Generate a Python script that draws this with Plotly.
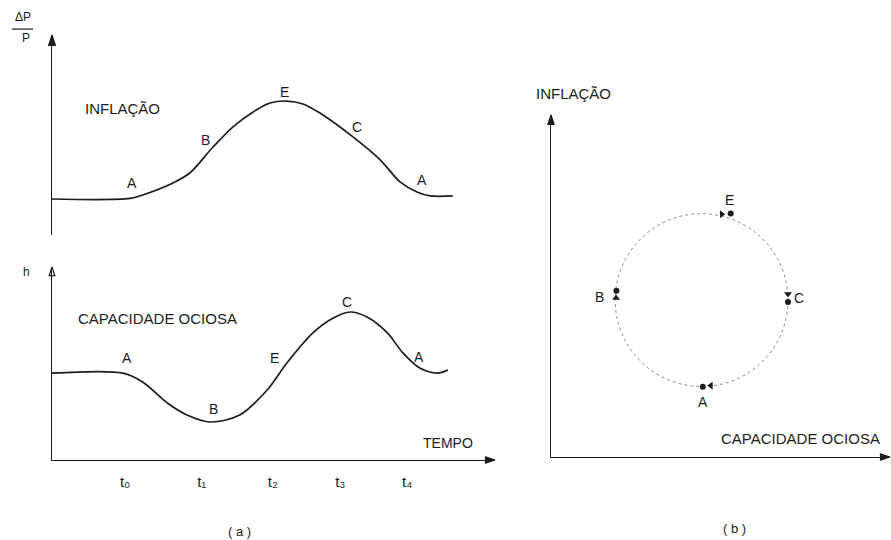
import plotly.graph_objects as go

# ---------------- panel (a): time paths ----------------
# time axis (t0 .. t4 tick positions) shared by both (a) panels
tick_vals = [1.04, 2.13, 3.14, 4.10, 5.05]
tick_text = ["t₀", "t₁", "t₂", "t₃", "t₄"]

# inflation path  ΔP/P
time_inf = [0.0, 1.11, 1.29, 1.72, 1.96, 2.29, 2.57, 2.86, 3.10, 3.34, 3.57, 3.81,
            4.28, 4.67, 4.95, 5.19, 5.38, 5.70]
inflacao = [0.0, 0.03, 0.21, 0.83, 1.34, 2.68, 3.71, 4.49, 4.95, 5.05, 4.90, 4.43,
            3.20, 2.01, 0.88, 0.36, 0.16, 0.16]
inf_lbl_t = [1.14, 2.18, 3.30, 4.34, 5.26]
inf_lbl_v = [0.83, 3.04, 5.52, 3.71, 0.98]
inf_lbl_txt = ["A", "B", "E", "C", "A"]

# idle capacity path  h
time_cap = [0.0, 1.01, 1.29, 1.64, 1.92, 2.25, 2.67, 3.06, 3.34, 3.71, 4.00, 4.24,
            4.48, 4.77, 4.99, 5.23, 5.48, 5.63]
capacidade = [4.48, 4.48, 4.02, 2.94, 2.32, 1.96, 2.32, 3.61, 5.00, 6.55, 7.32, 7.63,
              7.37, 6.55, 5.52, 4.74, 4.48, 4.64]
cap_lbl_t = [1.07, 2.29, 3.16, 4.20, 5.22]
cap_lbl_v = [5.26, 2.63, 5.26, 8.14, 5.31]
cap_lbl_txt = ["A", "B", "E", "C", "A"]

# ---------------- panel (b): phase diagram ----------------
circle_center = (5.02, 5.23)
circle_radius = 2.88
phase_names = ["A", "B", "E", "C"]
dot_x = [5.06, 2.18, 5.99, 7.90]
dot_y = [2.34, 5.54, 8.12, 5.17]
arrow_x = [5.33, 2.17, 5.69, 7.90]
arrow_y = [2.38, 5.30, 8.09, 5.43]
arrow_dir = [270, 0, 90, 180]
phase_lbl_x = [5.07, 1.60, 5.94, 8.28]
phase_lbl_y = [1.83, 5.34, 8.57, 5.29]

W, H = 891, 540
INK = "#1c1c1c"
FONT = "Liberation Sans, DejaVu Sans"


def px_x(p):
    return p / W


def px_y(p):
    return 1 - p / H


# axis geometry: (domain, range)
AX_T = ([px_x(52), px_x(495)], [0, 6.3])
AX_INF = ([px_y(235), px_y(35)], [-1.855, 8.455])
AX_CAP = ([px_y(460), px_y(267)], [0, 9.95])
AX_OC = ([px_x(551), px_x(890)], [0, 11.3])
AX_IN = ([px_y(457), px_y(115)], [0, 11.4])


def to_paper(axis, v):
    (d0, d1), (r0, r1) = axis
    return d0 + (v - r0) / (r1 - r0) * (d1 - d0)


fig = go.Figure()

fig.add_trace(go.Scatter(x=time_inf, y=inflacao, mode="lines", xaxis="x", yaxis="y",
                         line=dict(color=INK, width=1.7, shape="spline", smoothing=0.9),
                         hoverinfo="skip", showlegend=False))
fig.add_trace(go.Scatter(x=time_cap, y=capacidade, mode="lines", xaxis="x", yaxis="y2",
                         line=dict(color=INK, width=1.7, shape="spline", smoothing=0.9),
                         hoverinfo="skip", showlegend=False))

# phase points and direction arrows on the cycle
fig.add_trace(go.Scatter(x=dot_x, y=dot_y, mode="markers", xaxis="x2", yaxis="y3",
                         marker=dict(color=INK, size=6, symbol="circle"),
                         cliponaxis=False, hoverinfo="skip", showlegend=False))
fig.add_trace(go.Scatter(x=arrow_x, y=arrow_y, mode="markers", xaxis="x2", yaxis="y3",
                         marker=dict(color=INK, size=7, symbol="triangle-up", angle=arrow_dir),
                         cliponaxis=False, hoverinfo="skip", showlegend=False))


# arrowheads at the ends of the axis lines
def axis_head(xa, ya, x, y, angle, symbol, size):
    fig.add_trace(go.Scatter(x=[x], y=[y], mode="markers", xaxis=xa, yaxis=ya,
                             marker=dict(color=INK, size=size, symbol=symbol, angle=angle,
                                         line=dict(color=INK, width=1.2)),
                             cliponaxis=False, hoverinfo="skip", showlegend=False))


axis_head("x", "y", AX_T[1][0], AX_INF[1][1], 0, "arrow", 11)
axis_head("x", "y2", AX_T[1][0], AX_CAP[1][1], 0, "arrow-open", 9)
axis_head("x", "y2", AX_T[1][1], AX_CAP[1][0], 90, "arrow", 10)
axis_head("x2", "y3", AX_OC[1][0], AX_IN[1][1], 0, "arrow", 10)
axis_head("x2", "y3", AX_OC[1][1], AX_IN[1][0], 90, "arrow", 10)

cx, cy = circle_center
fig.add_shape(type="circle", xref="x2", yref="y3",
              x0=cx - circle_radius, x1=cx + circle_radius,
              y0=cy - circle_radius, y1=cy + circle_radius,
              line=dict(color="#8c8c8c", width=1, dash="dot"), layer="below")

# fraction bar of the ΔP/P label
fig.add_shape(type="line", xref="paper", yref="paper",
              x0=to_paper(AX_T, -0.57), x1=to_paper(AX_T, -0.27),
              y0=to_paper(AX_INF, 8.76), y1=to_paper(AX_INF, 8.76),
              line=dict(color=INK, width=1.2))

ann = []


def txt(x, y, s, xref, yref, size=14):
    ann.append(dict(x=x, y=y, text=s, xref=xref, yref=yref, showarrow=False,
                    xanchor="center", yanchor="middle",
                    font=dict(family=FONT, size=size, color=INK)))


def ptxt(xaxis, x, yaxis, y, s, size=14):
    # text placed outside the axis ranges, positioned in paper units
    txt(to_paper(xaxis, x), to_paper(yaxis, y), s, "paper", "paper", size)


for t, v, s in zip(inf_lbl_t, inf_lbl_v, inf_lbl_txt):
    txt(t, v, s, "x", "y")
for t, v, s in zip(cap_lbl_t, cap_lbl_v, cap_lbl_txt):
    txt(t, v, s, "x", "y2")
for x, y, s in zip(phase_lbl_x, phase_lbl_y, phase_names):
    txt(x, y, s, "x2", "y3")

ptxt(AX_T, -0.41, AX_INF, 9.38, "ΔP", size=12)
ptxt(AX_T, -0.37, AX_INF, 8.30, "P", size=12)
txt(1.00, 4.69, "INFLAÇÃO", "x", "y", size=15)
txt(1.50, 7.27, "CAPACIDADE OCIOSA", "x", "y2", size=15)
txt(5.63, 0.88, "TEMPO", "x", "y2", size=14)
ptxt(AX_T, -0.36, AX_CAP, 9.69, "h", size=12)
ptxt(AX_T, 2.67, AX_CAP, -3.71, "( a )", size=13)

ptxt(AX_OC, 0.75, AX_IN, 12.13, "INFLAÇÃO", size=15)
txt(8.30, 0.63, "CAPACIDADE OCIOSA", "x2", "y3", size=15)
ptxt(AX_OC, 6.13, AX_IN, -2.37, "( b )", size=13)

hidden = dict(showgrid=False, zeroline=False, showline=False, showticklabels=False,
              ticks="", fixedrange=True)
axis_line = dict(showline=True, linecolor=INK, linewidth=1.2)

fig.update_layout(
    width=W, height=H,
    margin=dict(l=0, r=0, t=0, b=0),
    paper_bgcolor="white", plot_bgcolor="white",
    showlegend=False,
    xaxis=dict(hidden, **axis_line, domain=AX_T[0], range=AX_T[1], anchor="y2",
               showticklabels=True, tickvals=tick_vals, ticktext=tick_text,
               ticklabelstandoff=8,
               tickfont=dict(family=FONT, size=15, color=INK)),
    yaxis=dict(hidden, **axis_line, domain=AX_INF[0], range=AX_INF[1], anchor="x"),
    yaxis2=dict(hidden, **axis_line, domain=AX_CAP[0], range=AX_CAP[1], anchor="x"),
    xaxis2=dict(hidden, **axis_line, domain=AX_OC[0], range=AX_OC[1], anchor="y3"),
    yaxis3=dict(hidden, **axis_line, domain=AX_IN[0], range=AX_IN[1], anchor="x2"),
    annotations=ann,
)

fig.write_html("out.html")
